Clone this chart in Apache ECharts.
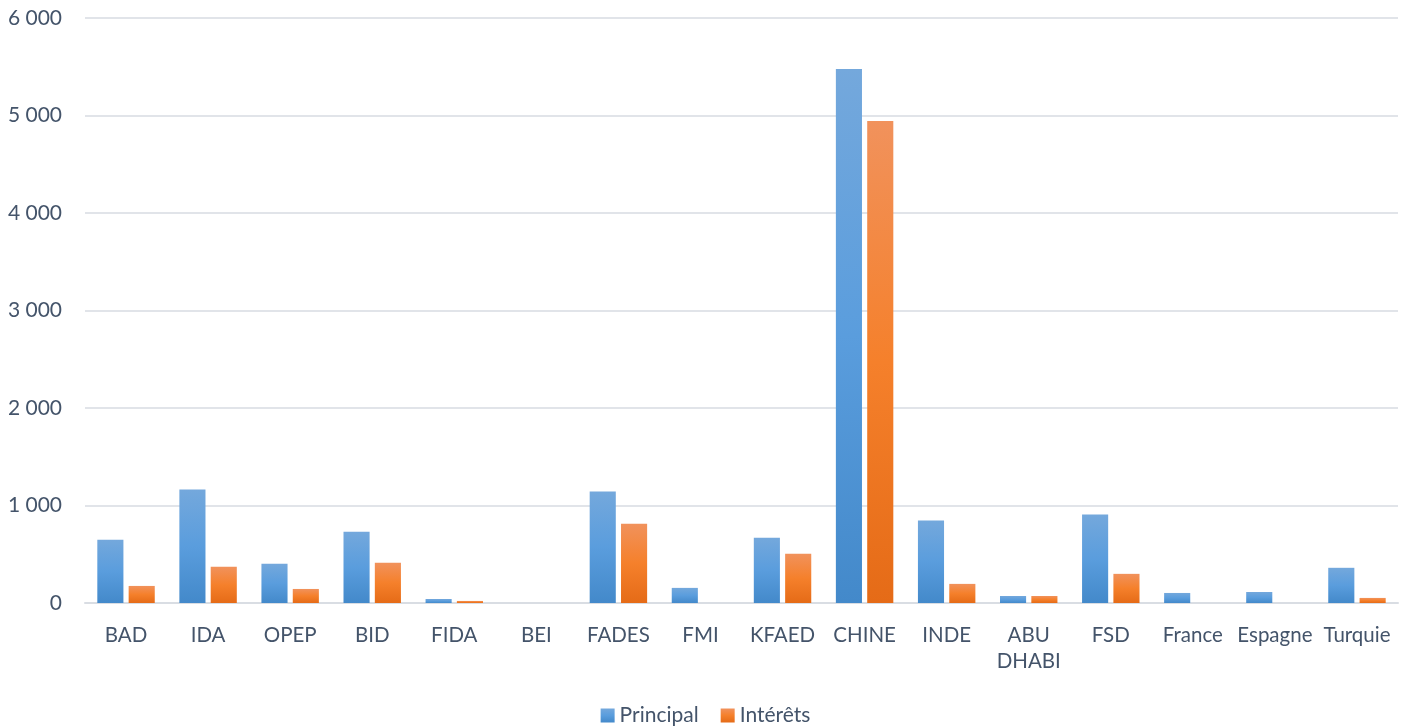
<!DOCTYPE html>
<html>
<head>
<meta charset="utf-8">
<script src="https://cdn.jsdelivr.net/npm/echarts@6/dist/echarts.min.js"></script>
<style>html,body{margin:0;padding:0;background:#fff}#c{width:1411px;height:727px}</style>
</head>
<body>
<div id="c"></div>
<script>
const categories = ['BAD','IDA','OPEP','BID','FIDA','BEI','FADES','FMI','KFAED','CHINE','INDE','ABU\nDHABI','FSD','France','Espagne','Turquie'];
const principal = [650, 1165, 402, 732, 41, 0, 1144, 155, 670, 5478, 845, 72, 907, 103, 113, 361];
const interets  = [175, 371, 144, 412, 21, 0, 814, 0, 505, 4943, 196, 72, 299, 0, 0, 52];
const yTicks = [0, 1000, 2000, 3000, 4000, 5000, 6000];

const txt = '#44546A';
const font = 'Lato, "Open Sans", sans-serif';
function grad(top, mid, bot) {
  return new echarts.graphic.LinearGradient(0, 0, 0, 1, [
    {offset: 0, color: top}, {offset: 0.5, color: mid}, {offset: 1, color: bot}
  ]);
}
const blue = grad('#74a8dc', '#5a9ddd', '#4389ca');
const orange = grad('#f1925c', '#f5802b', '#e56b17');

const chart = echarts.init(document.getElementById('c'));
chart.setOption({
  animation: false,
  textStyle: {fontFamily: font},
  grid: {left: 85, right: 13, top: 18, bottom: 124, containLabel: false},
  legend: {
    bottom: -4, left: 'center',
    itemWidth: 14, itemHeight: 14, itemGap: 22,
    icon: 'rect',
    textStyle: {color: txt, fontSize: 21, fontFamily: font},
    data: ['Principal', 'Intérêts']
  },
  xAxis: {
    type: 'category',
    data: categories,
    axisTick: {show: false},
    axisLine: {lineStyle: {color: '#d9dde3', width: 2}},
    axisLabel: {color: txt, fontSize: 20.5, margin: 19, lineHeight: 26, interval: 0, fontFamily: font}
  },
  yAxis: {
    type: 'value',
    min: yTicks[0], max: yTicks[yTicks.length - 1], interval: 1000,
    axisLine: {show: false},
    axisTick: {show: false},
    splitLine: {lineStyle: {color: '#e1e4e9', width: 2}},
    axisLabel: {
      color: txt, fontSize: 21, margin: 23, fontFamily: font,
      formatter: v => String(v).replace(/\B(?=(\d{3})+(?!\d))/g, ' ')
    }
  },
  series: [
    {name: 'Principal', type: 'bar', data: principal, barGap: '20%', barCategoryGap: '30%', itemStyle: {color: blue}},
    {name: 'Intérêts', type: 'bar', data: interets, itemStyle: {color: orange}}
  ]
});
</script>
</body>
</html>
